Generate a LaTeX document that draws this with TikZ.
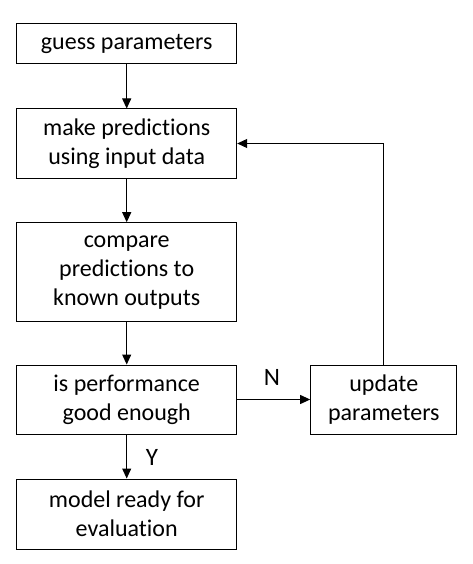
\documentclass[tikz,border=0pt]{standalone}
\usepackage{fontspec}
\setmainfont{Carlito}[Ligatures={NoCommon}]
\usetikzlibrary{arrows.meta}
\begin{document}
\begin{tikzpicture}[x=1pt,y=-1pt,
  box/.style={draw, line width=1pt, inner sep=0pt, align=center,
    font=\fontsize{24}{29}\selectfont},
  conn/.style={line width=1pt, -{Triangle[length=10pt,width=9pt]}},
  lbl/.style={font=\fontsize{25}{30}\selectfont, inner sep=0pt}]
\useasboundingbox (0,0) rectangle (472,564);
\node[box, minimum width=220pt, minimum height=40pt] (b1) at (126.7,44) {guess parameters};
\node[box, minimum width=220pt, minimum height=69pt] (b2) at (126.7,143.5) {make predictions\\using input data};
\node[box, minimum width=220pt, minimum height=99pt] (b3) at (126.7,272.2) {compare\\predictions to\\known outputs};
\node[box, minimum width=220pt, minimum height=69pt] (b4) at (126.7,399.5) {is performance\\good enough};
\node[box, minimum width=220pt, minimum height=70pt] (b5) at (126.7,514) {model ready for\\evaluation};
\node[box, minimum width=146.3pt, minimum height=69pt] (b6) at (383.8,399.5) {update\\parameters};
\coordinate (corner) at (383,143.5);
\draw[conn] (b1) -- (b2);
\draw[conn] (b2) -- (b3);
\draw[conn] (b3) -- (b4);
\draw[conn] (b4) -- (b5);
\draw[conn] (b4) -- (b6);
\draw[conn] (b6.north -| corner) -- (corner) -- (b2.east);
\node[lbl] (n) at (272,377) {N};
\node[lbl] (y) at (152,457) {Y};
\end{tikzpicture}
\end{document}
